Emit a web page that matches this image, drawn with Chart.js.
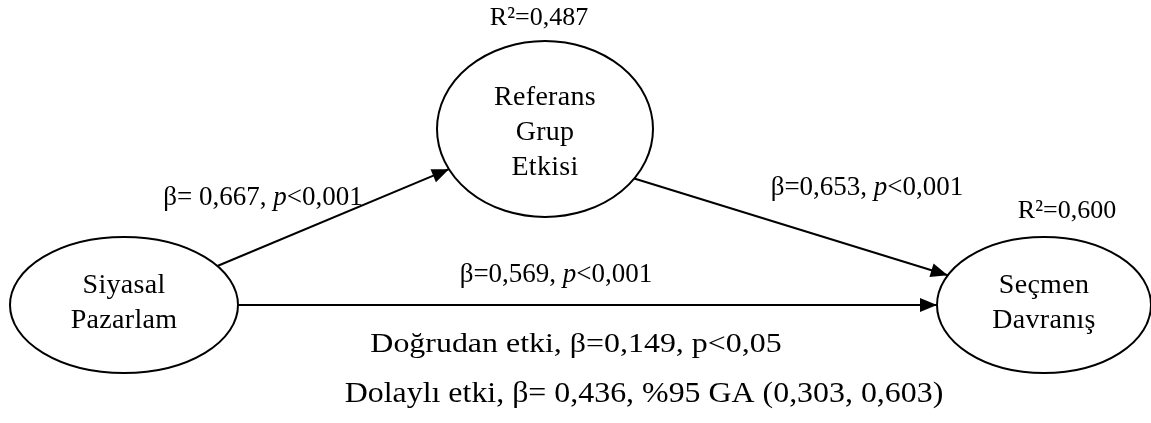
<!DOCTYPE html>
<html>
<head>
<meta charset="utf-8">
<script src="https://cdn.jsdelivr.net/npm/chart.js@4/dist/chart.umd.min.js"></script>
<style>
  html, body { margin: 0; padding: 0; background: #fff; }
  #wrap { width: 1151px; height: 423px; }
</style>
</head>
<body>
<div id="wrap"><canvas id="pathChart"></canvas></div>
<script>
// model content
const nodeNames = [['Siyasal', 'Pazarlam'], ['Referans', 'Grup', 'Etkisi'], ['Seçmen', 'Davranış']];
const nodeR2 = [null, 'R²=0,487', 'R²=0,600'];
const edgeFrom = [0, 1, 0];
const edgeTo = [1, 2, 2];
const edgeBeta = ['β= 0,667, ', 'β=0,653, ', 'β=0,569, '];
const edgeP = ['<0,001', '<0,001', '<0,001'];
const effectLines = ['Doğrudan etki, β=0,149, p<0,05', 'Dolaylı etki, β= 0,436, %95 GA (0,303, 0,603)'];

// layout, in axis units (0..1151 x 0..423)
const nodeCenter = [[124, 305], [545, 129], [1044, 305]];
const nodeRadius = [[114, 68], [108, 88], [107, 68]];
const nodeTextShift = [-2, 4, -2];
const r2Pos = [null, [539, 18], [1067, 211]];
const edgeSourceShift = [[0, 0], [0, 22], [0, 0]];
const edgeLabelPos = [[263, 198], [867, 188], [556, 275]];
const effectLinePos = [[576, 345], [644, 394]];

const SERIF = '"Liberation Serif", "DejaVu Serif", serif';

// where a ray from point (ax, ay) inside ellipse i towards (bx, by) leaves it
function rim(i, ax, ay, bx, by) {
    const [cx, cy] = nodeCenter[i];
    const [rx, ry] = nodeRadius[i];
    const dx = bx - ax, dy = by - ay;
    const ox = ax - cx, oy = ay - cy;
    const a = (dx / rx) ** 2 + (dy / ry) ** 2;
    const b = 2 * (ox * dx / (rx * rx) + oy * dy / (ry * ry));
    const c = (ox / rx) ** 2 + (oy / ry) ** 2 - 1;
    const s = (-b + Math.sqrt(b * b - 4 * a * c)) / (2 * a);
    return { x: ax + dx * s, y: ay + dy * s };
}

const datasets = edgeFrom.map((f, k) => {
    const t = edgeTo[k];
    const sx = nodeCenter[f][0] + edgeSourceShift[k][0];
    const sy = nodeCenter[f][1] + edgeSourceShift[k][1];
    const [tx, ty] = nodeCenter[t];
    return {
        type: 'line',
        data: [rim(f, sx, sy, tx, ty), rim(t, tx, ty, sx, sy)],
        borderColor: '#000',
        borderWidth: 2,
        pointRadius: 0,
        fill: false,
        tension: 0
    };
});

const diagramPlugin = {
    id: 'diagram',
    beforeDatasetsDraw(chart) {
        const { ctx, scales: { x, y } } = chart;
        ctx.save();
        ctx.strokeStyle = '#000';
        ctx.lineWidth = 2;
        nodeCenter.forEach((c, i) => {
            const px = x.getPixelForValue(c[0]), py = y.getPixelForValue(c[1]);
            const rx = Math.abs(x.getPixelForValue(c[0] + nodeRadius[i][0]) - px);
            const ry = Math.abs(y.getPixelForValue(c[1] + nodeRadius[i][1]) - py);
            ctx.beginPath();
            ctx.ellipse(px, py, rx, ry, 0, 0, Math.PI * 2);
            ctx.stroke();
        });
        ctx.restore();
    },
    afterDatasetsDraw(chart) {
        const { ctx, scales: { x, y } } = chart;
        ctx.save();
        ctx.fillStyle = '#000';

        // arrowheads
        chart.data.datasets.forEach((ds, k) => {
            const pts = chart.getDatasetMeta(k).data;
            const a = pts[0], b = pts[1];
            const ang = Math.atan2(b.y - a.y, b.x - a.x);
            const len = 17, half = 7;
            ctx.beginPath();
            ctx.moveTo(b.x, b.y);
            ctx.lineTo(b.x - len * Math.cos(ang) + half * Math.sin(ang), b.y - len * Math.sin(ang) - half * Math.cos(ang));
            ctx.lineTo(b.x - len * Math.cos(ang) - half * Math.sin(ang), b.y - len * Math.sin(ang) + half * Math.cos(ang));
            ctx.closePath();
            ctx.fill();
        });

        ctx.textBaseline = 'middle';
        ctx.textAlign = 'center';

        // node names
        ctx.font = '28px ' + SERIF;
        ctx.letterSpacing = '0.3px';
        nodeNames.forEach((lines, i) => {
            const px = x.getPixelForValue(nodeCenter[i][0]);
            const py = y.getPixelForValue(nodeCenter[i][1]) + nodeTextShift[i];
            const step = 35;
            lines.forEach((t, l) => {
                ctx.fillText(t, px, py + (l - (lines.length - 1) / 2) * step);
            });
        });
        ctx.letterSpacing = '0px';

        // R² above the endogenous nodes
        ctx.font = '26px ' + SERIF;
        nodeR2.forEach((t, i) => {
            if (!t) return;
            ctx.fillText(t, x.getPixelForValue(r2Pos[i][0]), y.getPixelForValue(r2Pos[i][1]));
        });

        // path coefficients with italic p
        ctx.textAlign = 'left';
        const normal = '27px ' + SERIF, italic = 'italic 27px ' + SERIF;
        edgeBeta.forEach((b, k) => {
            ctx.font = normal;
            const w1 = ctx.measureText(b).width;
            const w3 = ctx.measureText(edgeP[k]).width;
            ctx.font = italic;
            const w2 = ctx.measureText('p').width;
            let px = x.getPixelForValue(edgeLabelPos[k][0]) - (w1 + w2 + w3) / 2;
            const py = y.getPixelForValue(edgeLabelPos[k][1]);
            ctx.font = normal;
            ctx.fillText(b, px, py); px += w1;
            ctx.font = italic;
            ctx.fillText('p', px, py); px += w2;
            ctx.font = normal;
            ctx.fillText(edgeP[k], px, py);
        });

        // effect summary lines
        ctx.textAlign = 'center';
        const effectFont = ['28px ', '29px '];
        const effectStretch = [1.14, 1.1];
        effectLines.forEach((t, k) => {
            ctx.save();
            ctx.font = effectFont[k] + SERIF;
            ctx.translate(x.getPixelForValue(effectLinePos[k][0]), y.getPixelForValue(effectLinePos[k][1]));
            ctx.scale(effectStretch[k], 1);
            ctx.fillText(t, 0, 0);
            ctx.restore();
        });
        ctx.restore();
    }
};

new Chart(document.getElementById('pathChart'), {
    type: 'scatter',
    data: { datasets: datasets },
    options: {
        responsive: true,
        maintainAspectRatio: false,
        animation: false,
        layout: { padding: 0 },
        scales: {
            x: { type: 'linear', min: 0, max: 1151, display: false },
            y: { type: 'linear', min: 0, max: 423, reverse: true, display: false }
        },
        plugins: { legend: { display: false }, tooltip: { enabled: false } }
    },
    plugins: [diagramPlugin]
});
</script>
</body>
</html>
